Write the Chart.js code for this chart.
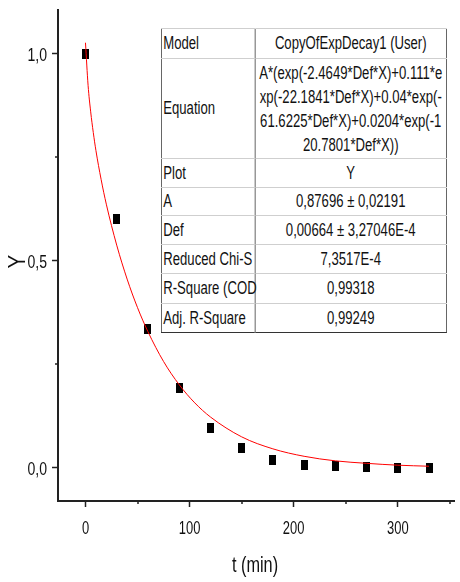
<!DOCTYPE html>
<html>
<head>
<meta charset="utf-8">
<script src="https://cdn.jsdelivr.net/npm/chart.js@4.4.0/dist/chart.umd.min.js"></script>
<style>
  html, body { margin: 0; padding: 0; background: #fff; }
  #wrap { position: relative; width: 460px; height: 582px; }
  #fitbox { position: absolute; left: 161px; top: 28px; transform: scaleX(0.75); transform-origin: 0 0; }
  #fit {
    width: 381px;
    border-collapse: collapse; table-layout: fixed; background: #fff;
    border: 1px solid #333;
    font-family: 'Liberation Sans', Arial, sans-serif;
    font-size: 17.5px; color: #111;
  }
  #fit td { border-top: 1px solid #cfcfcf; padding: 0 2px; white-space: nowrap; overflow: visible; }
  #fit td + td { border-left: 1px solid #333; text-align: center; }
  #fit td.eq { line-height: 24px; }
</style>
</head>
<body>
<div id="wrap">
  <canvas id="chart" width="460" height="582"></canvas>
  <div id="fitbox">
  <table id="fit">
    <colgroup><col style="width:125px"><col></colgroup>
    <tr style="height:30px"><td>Model</td><td>CopyOfExpDecay1 (User)</td></tr>
    <tr style="height:100px"><td>Equation</td><td class="eq">A*(exp(-2.4649*Def*X)+0.111*e<br>xp(-22.1841*Def*X)+0.04*exp(-<br>61.6225*Def*X)+0.0204*exp(-1<br>20.7801*Def*X))</td></tr>
    <tr style="height:29px"><td>Plot</td><td>Y</td></tr>
    <tr style="height:28px"><td>A</td><td>0,87696 ± 0,02191</td></tr>
    <tr style="height:29px"><td>Def</td><td>0,00664 ± 3,27046E-4</td></tr>
    <tr style="height:29px"><td>Reduced Chi-S</td><td>7,3517E-4</td></tr>
    <tr style="height:30px"><td>R-Square (COD</td><td>0,99318</td></tr>
    <tr style="height:29px"><td>Adj. R-Square</td><td>0,99249</td></tr>
  </table>
  </div>
</div>
<script>
// measured points
var tMin = [0, 30, 60, 90, 120, 150, 180, 210, 240, 270, 300, 330];
var yVals = [1.0, 0.60, 0.336, 0.193, 0.097, 0.048, 0.018, 0.008, 0.004, 0.001, 0.0, 0.0];

// red fit curve
var fitT = [0, 2.5, 5, 7.5, 10, 15, 20, 30, 40, 50, 60, 75, 90, 105, 120, 150, 180, 210, 240, 270, 300, 330];
var fitY = [1.027, 0.924, 0.860, 0.810, 0.767, 0.697, 0.637, 0.538, 0.456, 0.387, 0.329, 0.257, 0.201, 0.157, 0.123, 0.075, 0.046, 0.028, 0.017, 0.011, 0.0065, 0.004];

var xTicks = [0, 50, 100, 150, 200, 250, 300, 350];
var xLabels = ['0', '', '100', '', '200', '', '300', ''];
var yTicks = [0, 0.25, 0.5, 0.75, 1.0];
var yLabels = ['0,0', '', '0,5', '', '1,0'];

window.onload = function () {
    var mk = document.createElement('canvas');
    mk.width = 7; mk.height = 10;
    var mc = mk.getContext('2d');
    mc.fillStyle = '#000';
    mc.fillRect(0, 0, 7, 10);

    var fnt = "'Liberation Sans', Arial, sans-serif";
    var axisCol = '#222';

    // short minor ticks
    var minorTicks = {
        id: 'minorTicks',
        afterDraw: function (chart) {
            var c = chart.ctx, xs = chart.scales.x, ys = chart.scales.y, a = chart.chartArea;
            c.save();
            c.strokeStyle = axisCol;
            c.lineWidth = 1.5;
            c.beginPath();
            xTicks.forEach(function (v, i) {
                if (xLabels[i] !== '') return;
                var px = Math.round(xs.getPixelForValue(v));
                c.moveTo(px, a.bottom); c.lineTo(px, a.bottom + 3);
            });
            yTicks.forEach(function (v, i) {
                if (yLabels[i] !== '') return;
                var py = Math.round(ys.getPixelForValue(v));
                c.moveTo(a.left, py); c.lineTo(a.left - 3, py);
            });
            c.stroke();
            c.restore();
        }
    };

    // condensed axis text (the original uses a narrow face)
    var narrowText = {
        id: 'narrowText',
        afterDraw: function (chart) {
            var c = chart.ctx, xs = chart.scales.x, ys = chart.scales.y, a = chart.chartArea;
            function put(txt, x, y, size, sx, align, rot) {
                c.save();
                c.translate(x, y);
                if (rot) c.rotate(rot);
                c.scale(sx, 1);
                c.font = size + 'px ' + fnt;
                c.textAlign = align;
                c.textBaseline = 'alphabetic';
                c.fillStyle = '#111';
                c.fillText(txt, 0, 0);
                c.restore();
            }
            xTicks.forEach(function (v, i) {
                if (xLabels[i]) put(xLabels[i], xs.getPixelForValue(v), a.bottom + 33, 18, 0.72, 'center');
            });
            yTicks.forEach(function (v, i) {
                if (yLabels[i]) put(yLabels[i], a.left - 11, ys.getPixelForValue(v) + 7, 18, 0.78, 'right');
            });
            put('t (min)', (a.left + a.right) / 2 - 1, chart.height - 10, 22, 0.74, 'center');
            put('Y', 25, (a.top + a.bottom) / 2 + 6, 23, 0.9, 'center', -Math.PI / 2);
        }
    };

    new Chart(document.getElementById('chart'), {
        type: 'scatter',
        data: {
            datasets: [{
                label: 'fit',
                type: 'line',
                data: fitT.map(function (t, i) { return { x: t, y: fitY[i] }; }),
                borderColor: '#ff0000',
                borderWidth: 1,
                pointRadius: 0,
                cubicInterpolationMode: 'monotone',
                fill: false,
                order: 1
            },
            {
                label: 'Y',
                data: tMin.map(function (t, i) { return { x: t, y: yVals[i] }; }),
                pointStyle: mk,
                pointRadius: 5,
                order: 2
            }]
        },
        options: {
            responsive: false,
            animation: false,
            layout: { padding: { top: 10, right: 0, left: 0, bottom: 0 } },
            plugins: {
                legend: { display: false },
                tooltip: { enabled: false }
            },
            scales: {
                x: {
                    type: 'linear',
                    min: -26.4,
                    max: 354,
                    afterBuildTicks: function (s) { s.ticks = xTicks.map(function (v) { return { value: v }; }); },
                    afterFit: function (s) { s.height = 81; },
                    border: { display: true, color: axisCol, width: 2 },
                    grid: {
                        drawOnChartArea: false,
                        tickLength: 6,
                        tickWidth: 1.5,
                        tickColor: function (ctx) { return xLabels[ctx.index] === '' ? 'rgba(0,0,0,0)' : axisCol; }
                    },
                    ticks: { display: false, autoSkip: false }
                },
                y: {
                    min: -0.08,
                    max: 1.106,
                    afterBuildTicks: function (s) { s.ticks = yTicks.map(function (v) { return { value: v }; }); },
                    afterFit: function (s) { s.width = 58; },
                    border: { display: true, color: axisCol, width: 2 },
                    grid: {
                        drawOnChartArea: false,
                        tickLength: 6,
                        tickWidth: 1.5,
                        tickColor: function (ctx) { return yLabels[ctx.index] === '' ? 'rgba(0,0,0,0)' : axisCol; }
                    },
                    ticks: { display: false, autoSkip: false }
                }
            }
        },
        plugins: [minorTicks, narrowText]
    });
};
</script>
</body>
</html>
